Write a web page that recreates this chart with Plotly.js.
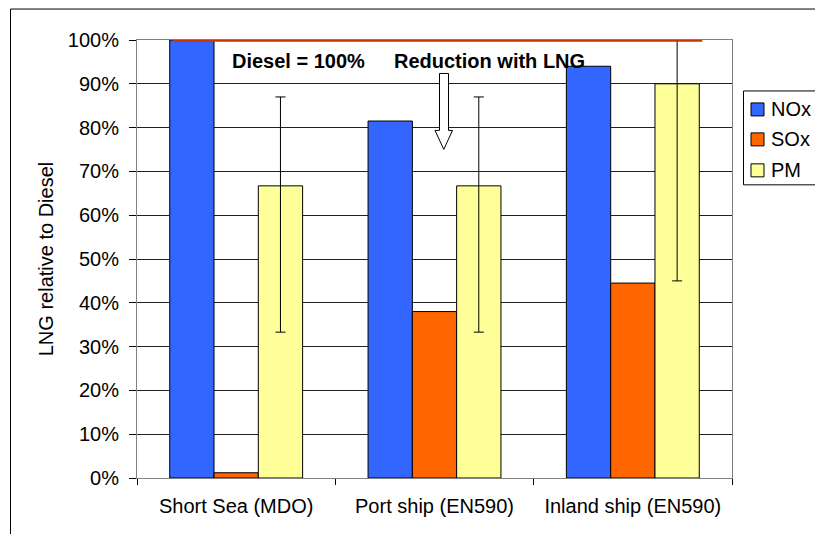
<!DOCTYPE html>
<html>
<head>
<meta charset="utf-8">
<script src="https://cdn.plot.ly/plotly-3.0.1.min.js"></script>
<style>html,body{margin:0;padding:0;background:#fff;}#chart{width:815px;height:534px;}</style>
</head>
<body>
<div id="chart"></div>
<script>
// ---- data ----
const categories = ["Short Sea (MDO)", "Port ship (EN590)", "Inland ship (EN590)"];
const seriesNames = ["NOx", "SOx", "PM"];
const seriesColors = ["#3366FF", "#FF6600", "#FFFF99"];
const noxValues = [100, 81.5, 94];
const soxValues = [1.2, 38, 44.5];
const pmValues = [66.7, 66.7, 90];
const pmErrPlus = [20.3, 20.3, 10];
const pmErrMinus = [33.4, 33.4, 45];
const dieselLevel = 100;
const yTickVals = [0, 10, 20, 30, 40, 50, 60, 70, 80, 90, 100];
const yTickText = ["0%", "10%", "20%", "30%", "40%", "50%", "60%", "70%", "80%", "90%", "100%"];

// ---- layout geometry (pixels) ----
const W = 815, H = 534;
const L = 137, R = 732, T = 39.5, B = 478;
const px = x => (x - L) / (R - L);
const py = y => (B - y) / (B - T);

const font = "Liberation Sans, Arial, sans-serif";
const FS = 20;
const outline = {color: "#000", width: 1};

const traces = [
  {type: "bar", name: seriesNames[0], x: categories, y: noxValues,
   marker: {color: seriesColors[0], line: outline}},
  {type: "bar", name: seriesNames[1], x: categories, y: soxValues,
   marker: {color: seriesColors[1], line: outline}},
  {type: "bar", name: seriesNames[2], x: categories, y: pmValues,
   marker: {color: seriesColors[2], line: outline},
   error_y: {type: "data", symmetric: false, array: pmErrPlus, arrayminus: pmErrMinus,
             color: "#000", thickness: 1, width: 5}}
];

// hollow arrow path
const ax = [439.5, 448.5, 435, 452.5, 443.8];
const arrowPath = "M " + px(ax[0]) + " " + py(73) +
  " L " + px(ax[1]) + " " + py(73) +
  " L " + px(ax[1]) + " " + py(130) +
  " L " + px(ax[3]) + " " + py(130) +
  " L " + px(ax[4]) + " " + py(149) +
  " L " + px(ax[2]) + " " + py(130) +
  " L " + px(ax[0]) + " " + py(130) + " Z";

const shapes = [
  {type: "line", xref: "x", yref: "y", x0: -0.32, x1: 2.35, y0: dieselLevel, y1: dieselLevel,
   line: {color: "#CC3300", width: 3.5}, layer: "above"},
  {type: "path", xref: "paper", yref: "paper", path: arrowPath,
   fillcolor: "#fff", line: {color: "#000", width: 1}, layer: "above"},
  // outer frame (left and top edges)
  {type: "line", xref: "paper", yref: "paper", x0: px(10.5), x1: px(10.5), y0: py(8.5), y1: py(540),
   line: {color: "#000", width: 1}},
  {type: "line", xref: "paper", yref: "paper", x0: px(10.5), x1: px(820), y0: py(8.5), y1: py(8.5),
   line: {color: "#000", width: 1}},
  // legend frame (extends past right edge)
  {type: "path", xref: "paper", yref: "paper",
   path: "M " + px(830) + " " + py(90.5) + " L " + px(743.5) + " " + py(90.5) +
         " L " + px(743.5) + " " + py(184.5) + " L " + px(830) + " " + py(184.5),
   line: {color: "#000", width: 1}}
];
const annotations = [
  {xref: "paper", yref: "paper", x: px(230), y: py(61), xanchor: "left", yanchor: "middle",
   text: "<b>Diesel = 100%</b>", showarrow: false, font: {family: font, size: FS, color: "#000"}},
  {xref: "paper", yref: "paper", x: px(392), y: py(61), xanchor: "left", yanchor: "middle",
   text: "<b>Reduction with LNG</b>", showarrow: false, font: {family: font, size: FS, color: "#000"}}
];
const legendY = [109, 139, 170];
seriesNames.forEach((n, i) => {
  shapes.push({type: "rect", xref: "paper", yref: "paper",
    x0: px(751), x1: px(764), y0: py(legendY[i] + 6.5), y1: py(legendY[i] - 6.5),
    fillcolor: seriesColors[i], line: {color: "#000", width: 1}});
  annotations.push({xref: "paper", yref: "paper", x: px(769), y: py(legendY[i]),
    xanchor: "left", yanchor: "middle", text: n, showarrow: false,
    font: {family: font, size: FS, color: "#000"}});
});

const layout = {
  width: W, height: H,
  margin: {l: L, r: W - R, t: T, b: H - B, pad: 0},
  paper_bgcolor: "#fff", plot_bgcolor: "#fff",
  font: {family: font, size: FS, color: "#000"},
  barmode: "group", bargap: 0.33, bargroupgap: 0,
  showlegend: false,
  xaxis: {type: "category", range: [-0.5, 2.5], showgrid: false,
          showline: true, linecolor: "#808080", linewidth: 1, mirror: true,
          ticks: "outside", ticklen: 6, tickcolor: "#000", tickson: "boundaries",
          ticklabelstandoff: 10,
          tickfont: {family: font, size: FS, color: "#000"}},
  yaxis: {range: [0, 100], tickvals: yTickVals, ticktext: yTickText,
          showgrid: true, gridcolor: "#222", gridwidth: 1,
          showline: true, linecolor: "#808080", linewidth: 1, mirror: true,
          ticks: "outside", ticklen: 7, tickcolor: "#000",
          ticklabelstandoff: 6, zeroline: false,
          tickfont: {family: font, size: FS, color: "#000"},
          title: {text: "LNG relative to Diesel", standoff: 8,
                  font: {family: font, size: FS, color: "#000"}}},
  shapes: shapes,
  annotations: annotations
};

Plotly.newPlot("chart", traces, layout, {staticPlot: true, displayModeBar: false});
</script>
</body>
</html>
